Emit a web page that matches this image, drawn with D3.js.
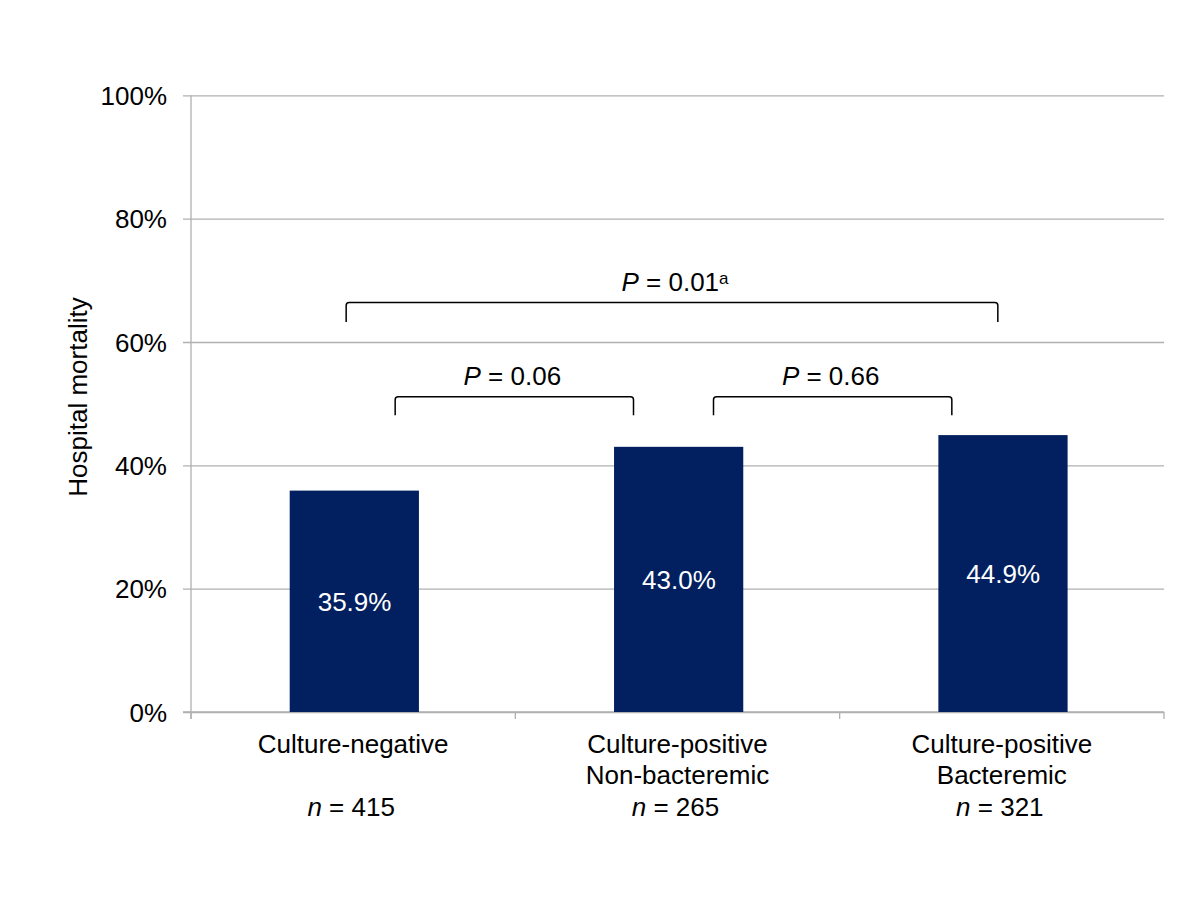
<!DOCTYPE html>
<html>
<head>
<meta charset="utf-8">
<script src="https://cdn.jsdelivr.net/npm/d3@7"></script>
<style>
  html, body { margin: 0; padding: 0; background: #ffffff; }
  svg text { font-family: "Liberation Sans", Arial, Helvetica, sans-serif; }
</style>
</head>
<body>
<svg id="chart" width="1200" height="900"></svg>
<script>
// ---- data ----
const categoryLines = [
  ["Culture-negative"],
  ["Culture-positive", "Non-bacteremic"],
  ["Culture-positive", "Bacteremic"]
];
const sampleSizes = [415, 265, 321];
const mortality = [35.9, 43.0, 44.9];          // hospital mortality, %
const yTickValues = [0, 20, 40, 60, 80, 100];
const compFrom = [0, 0, 1];
const compTo = [2, 1, 2];
const compP = ["0.01", "0.06", "0.66"];
const compNote = ["a", "", ""];
const compLevel = [66.4, 51.1, 51.1];           // bracket height, % on y axis
const yTitle = "Hospital mortality";

(function () {
// ---- layout ----
const mLeft = 191, mRight = 1164, mTop = 95.3, mBottom = 712;
const FS = 26;
const svg = d3.select("#chart");

const x = d3.scaleBand()
  .domain(d3.range(categoryLines.length))
  .range([mLeft, mRight])
  .paddingInner(0.6)
  .paddingOuter(0.3);
const xCat = d3.scaleBand().domain(d3.range(categoryLines.length)).range([mLeft, mRight]).padding(0);
const y = d3.scaleLinear().domain([0, 100]).range([mBottom, mTop]);

// gridlines + y axis
const yAxis = d3.axisLeft(y)
  .tickValues(yTickValues)
  .tickSize(-(mRight - mLeft))
  .tickPadding(16)
  .tickFormat(d => d + "%");
const gy = svg.append("g").attr("transform", `translate(${mLeft},0)`).call(yAxis);
gy.select(".domain").remove();
gy.selectAll(".tick line").attr("stroke", "#b0b0b0").attr("stroke-width", 1.3).attr("x1", -8);
gy.selectAll(".tick text")
  .attr("font-size", FS).attr("fill", "#000").attr("dy", "0.35em").attr("x", -24);

// y axis line
svg.append("line")
  .attr("x1", mLeft).attr("x2", mLeft).attr("y1", mTop).attr("y2", mBottom + 7)
  .attr("stroke", "#b0b0b0").attr("stroke-width", 1.3);

// x axis line and boundary ticks
svg.append("line")
  .attr("x1", mLeft - 8).attr("x2", mRight).attr("y1", mBottom).attr("y2", mBottom)
  .attr("stroke", "#b0b0b0").attr("stroke-width", 1.3);
const bounds = d3.range(categoryLines.length + 1).map(i => i < categoryLines.length ? xCat(i) : mRight);
svg.append("g").selectAll("line").data(bounds).join("line")
  .attr("x1", d => d).attr("x2", d => d).attr("y1", mBottom).attr("y2", mBottom + 7)
  .attr("stroke", "#b0b0b0").attr("stroke-width", 1.3);

// bars
svg.append("g").selectAll("rect").data(mortality).join("rect")
  .attr("x", (d, i) => x(i) + 1.4)
  .attr("width", x.bandwidth() - 0.5)
  .attr("y", d => y(d))
  .attr("height", d => y(0) - y(d))
  .attr("fill", "#02205f");

// bar value labels
svg.append("g").selectAll("text").data(mortality).join("text")
  .attr("x", (d, i) => x(i) + x.bandwidth() / 2 + 1.4)
  .attr("y", d => (y(d) + y(0)) / 2 + 9.5)
  .attr("text-anchor", "middle")
  .attr("font-size", FS)
  .attr("fill", "#ffffff")
  .text(d => d.toFixed(1) + "%");

// category labels
const center = i => xCat(i) + xCat.bandwidth() / 2;
const gl = svg.append("g");
categoryLines.forEach((lines, i) => {
  lines.forEach((ln, j) => {
    gl.append("text")
      .attr("x", center(i)).attr("y", 753 + j * 30.5)
      .attr("text-anchor", "middle").attr("font-size", FS).attr("fill", "#000")
      .text(ln);
  });
  const t = gl.append("text")
    .attr("x", center(i) - 2).attr("y", 816)
    .attr("text-anchor", "middle").attr("font-size", FS).attr("fill", "#000");
  t.append("tspan").attr("font-style", "italic").text("n");
  t.append("tspan").text(" = " + sampleSizes[i]);
});

// y axis title
svg.append("text")
  .attr("transform", `translate(87,397) rotate(-90)`)
  .attr("text-anchor", "middle").attr("font-size", FS).attr("fill", "#000")
  .text(yTitle);

// significance brackets
const bracketOffsets = [[-7, -4], [42, -44], [36, -50]]; // px from category centres
const legDrop = [19.5, 18.5, 18.5];
const gb = svg.append("g");
compP.forEach((p, k) => {
  const x0 = center(compFrom[k]) + bracketOffsets[k][0];
  const x1 = center(compTo[k]) + bracketOffsets[k][1];
  const yb = y(compLevel[k]);
  const yl = yb + legDrop[k];
  const r = 3;
  const path = d3.path();
  path.moveTo(x0, yl);
  path.lineTo(x0, yb + r);
  path.quadraticCurveTo(x0, yb, x0 + r, yb);
  path.lineTo(x1 - r, yb);
  path.quadraticCurveTo(x1, yb, x1, yb + r);
  path.lineTo(x1, yl);
  gb.append("path").attr("d", path.toString())
    .attr("fill", "none").attr("stroke", "#000").attr("stroke-width", 1.5);

  const t = gb.append("text")
    .attr("x", (x0 + x1) / 2 + (compNote[k] ? 3 : -2))
    .attr("y", yb - 12)
    .attr("text-anchor", "middle").attr("font-size", FS).attr("fill", "#000");
  t.append("tspan").attr("font-style", "italic").text("P");
  t.append("tspan").text(" = " + p);
  if (compNote[k]) {
    t.append("tspan").attr("font-size", 17).attr("dy", -7).text(compNote[k]);
  }
});
})();
</script>
</body>
</html>
